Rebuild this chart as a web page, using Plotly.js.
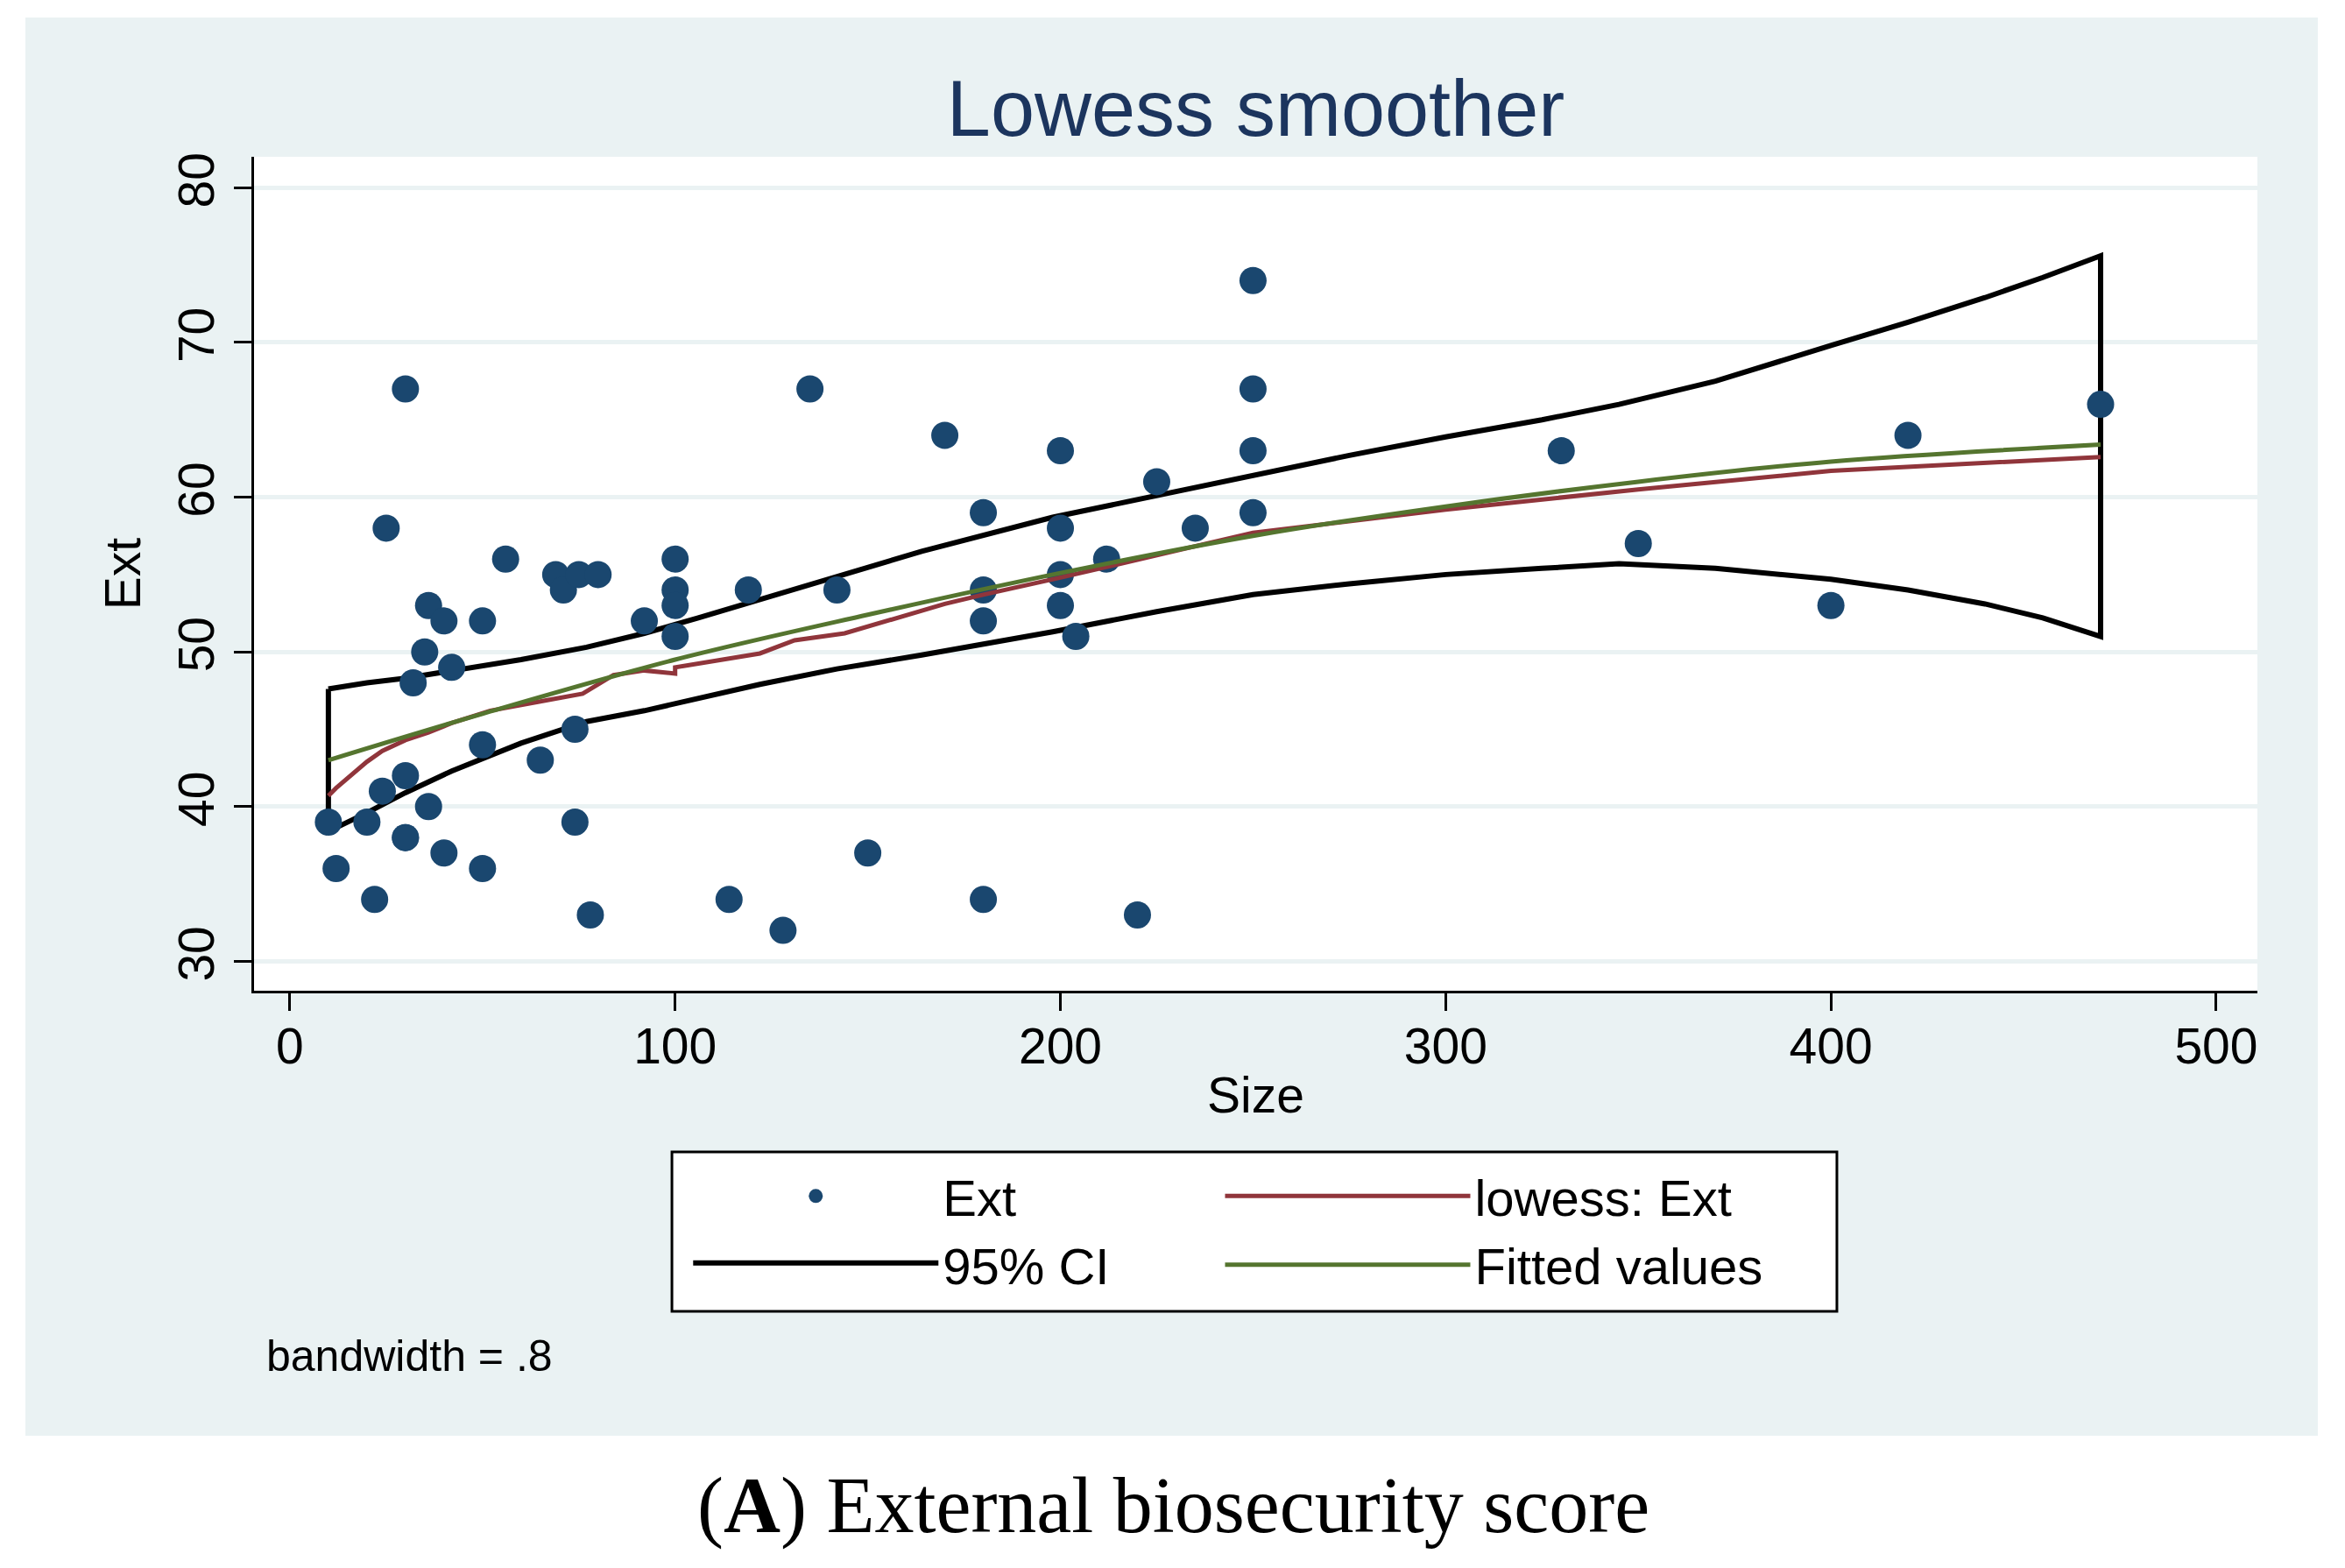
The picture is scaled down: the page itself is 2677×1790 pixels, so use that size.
<!DOCTYPE html>
<html>
<head>
<meta charset="utf-8">
<script src="https://cdn.plot.ly/plotly-3.0.1.min.js"></script>
<style>
  html, body { margin: 0; padding: 0; background: #ffffff; }
  #chart { width: 2677px; height: 1790px; }
</style>
</head>
<body>
<div id="chart"></div>
<script>
// observed points: herd size vs external biosecurity score
var sizeX = [10, 12, 20, 22, 24, 25, 30, 30, 30, 30, 32, 35, 36, 36, 40, 40, 42, 50, 50, 50,
             56, 65, 69, 71, 74, 74, 75, 78, 80, 92, 100, 100, 100, 100, 114, 119, 128, 135, 142, 150,
             170, 180, 180, 180, 180, 200, 200, 200, 200, 204, 212, 220, 225, 235, 250, 250, 250, 250,
             330, 350, 400, 420, 470];
var extY = [39, 36, 39, 34, 41, 58, 67, 42, 38, 38, 48, 50, 53, 40, 52, 37, 49, 52, 44, 36,
            56, 43, 55, 54, 45, 39, 55, 33, 55, 52, 56, 54, 53, 51, 34, 54, 32, 67, 54, 37,
            64, 59, 54, 52, 34, 63, 58, 55, 53, 51, 56, 33, 61, 58, 74, 67, 63, 59,
            63, 57, 53, 64, 66];

// lowess smoother (bandwidth .8)
var lowessX = [10, 12, 20, 24, 30, 36, 42, 52, 65, 76, 84, 92, 100, 100, 122, 131, 144, 170, 180, 200, 250, 300, 350, 400, 470];
var lowessY = [40.7, 41.2, 42.9, 43.6, 44.3, 44.8, 45.4, 46.2, 46.8, 47.3, 48.5, 48.8, 48.6, 49.0, 49.9, 50.75, 51.2, 53.1, 53.7, 54.8, 57.7, 59.2, 60.5, 61.7, 62.6];

// fitted values and 95% CI
var fitX = [10, 50, 100, 150, 200, 250, 300, 350, 400, 470];
var fitY = [43.0, 46.0, 49.5, 52.4, 55.1, 57.5, 59.4, 61.0, 62.3, 63.4];

var ciX = [10, 20, 30, 42, 60, 77, 92, 106, 122, 142, 164, 198, 225, 250, 275, 300, 325, 345, 370, 400, 420, 440, 455, 470];
var ciUpper = [47.6, 48.0, 48.3, 48.8, 49.5, 50.3, 51.2, 52.2, 53.4, 54.9, 56.5, 58.7, 60.1, 61.45, 62.7, 63.9, 65.0, 66.0, 67.5, 69.8, 71.3, 72.9, 74.2, 75.6];
var ciLower = [38.4, 39.6, 40.9, 42.3, 44.1, 45.5, 46.2, 47.0, 47.9, 48.9, 49.8, 51.3, 52.6, 53.7, 54.4, 55.0, 55.4, 55.7, 55.4, 54.7, 54.0, 53.1, 52.2, 51.0];

var xTicks = [0, 100, 200, 300, 400, 500];
var yTicks = [30, 40, 50, 60, 70, 80];

// closed outline of the band: upper edge, then lower edge backwards
var bandX = ciX.concat(ciX.slice().reverse(), [ciX[0]]);
var bandY = ciUpper.concat(ciLower.slice().reverse(), [ciUpper[0]]);

var band = {
    x: bandX, y: bandY,
    name: '95% CI',
    type: 'scatter', mode: 'lines',
    fill: 'toself', fillcolor: 'rgba(255,255,255,0)',
    line: {color: '#000000', width: 6},
    legend: 'legend', legendrank: 2,
    hoverinfo: 'skip'
};

var points = {
    x: sizeX, y: extY,
    name: 'Ext',
    type: 'scatter', mode: 'markers',
    marker: {color: '#1a476f', size: 31},
    legend: 'legend', legendrank: 1
};

var lowess = {
    x: lowessX, y: lowessY,
    name: 'lowess: Ext',
    type: 'scatter', mode: 'lines',
    line: {color: '#90353b', width: 5},
    legend: 'legend2', legendrank: 1
};

var fitted = {
    x: fitX, y: fitY,
    name: 'Fitted values',
    type: 'scatter', mode: 'lines',
    line: {color: '#55752f', width: 5, shape: 'spline'},
    legend: 'legend2', legendrank: 2
};

var data = [band, points, lowess, fitted];

var grey = '#eaf2f3';

// one legend column per key block; the frame around both is a shape
var legendCommon = {
    orientation: 'v',
    yanchor: 'top', y: -0.1997,
    xanchor: 'left',
    bgcolor: 'rgba(255,255,255,0)', borderwidth: 0,
    font: {size: 58},
    itemwidth: 280,
    traceorder: 'normal'
};

var layout = {
    width: 2677,
    height: 1790,
    paper_bgcolor: grey,
    plot_bgcolor: '#ffffff',
    margin: {l: 290, r: 100, t: 179, b: 659, pad: 0},
    font: {family: 'Liberation Sans, Arial, sans-serif', color: '#000000'},
    title: {
        text: 'Lowess smoother',
        font: {size: 90, color: '#1c355e'},
        x: 0.5, xref: 'paper', xanchor: 'center',
        y: 0.931, yref: 'container', yanchor: 'middle'
    },
    xaxis: {
        range: [-9.3, 510.7],
        tickvals: xTicks,
        ticks: 'outside', ticklen: 20, tickwidth: 3, tickcolor: '#000000',
        showline: true, linecolor: '#000000', linewidth: 3,
        showgrid: false, zeroline: false,
        tickfont: {size: 57},
        ticklabelstandoff: -8,
        title: {text: 'Size', font: {size: 57}, standoff: 5},
        automargin: false
    },
    yaxis: {
        range: [28.1, 82],
        tickvals: yTicks,
        tickangle: -90,
        ticks: 'outside', ticklen: 20, tickwidth: 3, tickcolor: '#000000',
        showline: true, linecolor: '#000000', linewidth: 3,
        showgrid: true, gridcolor: grey, gridwidth: 5, zeroline: false,
        tickfont: {size: 57},
        title: {text: 'Ext', font: {size: 57}, standoff: 14},
        automargin: false
    },
    showlegend: true,
    legend: Object.assign({}, legendCommon, {x: 0.2170}),
    legend2: Object.assign({}, legendCommon, {x: 0.4825}),
    shapes: [
        {type: 'rect', xref: 'paper', yref: 'paper', x0: -0.2, x1: -0.11413, y0: -0.8, y1: 1.3, fillcolor: '#ffffff', line: {width: 0}, layer: 'below'},
        {type: 'rect', xref: 'paper', yref: 'paper', x0: 1.03017, x1: 1.1, y0: -0.8, y1: 1.3, fillcolor: '#ffffff', line: {width: 0}, layer: 'below'},
        {type: 'rect', xref: 'paper', yref: 'paper', x0: -0.2, x1: 1.1, y0: 1.167, y1: 1.3, fillcolor: '#ffffff', line: {width: 0}, layer: 'below'},
        {type: 'rect', xref: 'paper', yref: 'paper', x0: -0.2, x1: 1.1, y0: -0.8, y1: -0.5336, fillcolor: '#ffffff', line: {width: 0}, layer: 'below'},
        // legend frame
        {type: 'rect', xref: 'paper', yref: 'paper', x0: 0.2086, x1: 0.7901, y0: -0.3845, y1: -0.1933, fillcolor: '#ffffff', line: {color: '#000000', width: 3}, layer: 'below'}
    ],
    annotations: [
        {
            text: 'bandwidth = .8',
            xref: 'paper', yref: 'paper',
            x: 0.0053, xanchor: 'left',
            y: -0.438, yanchor: 'middle',
            showarrow: false,
            font: {size: 50}
        },
        {
            text: '(<b>A</b>) External biosecurity score',
            xref: 'paper', yref: 'paper',
            x: 0.459, xanchor: 'center',
            y: -0.6176, yanchor: 'middle',
            showarrow: false,
            font: {size: 90, family: 'Liberation Serif, Times New Roman, serif'}
        }
    ]
};

var config = {staticPlot: true, displayModeBar: false};

Plotly.newPlot('chart', data, layout, config);
</script>
</body>
</html>
